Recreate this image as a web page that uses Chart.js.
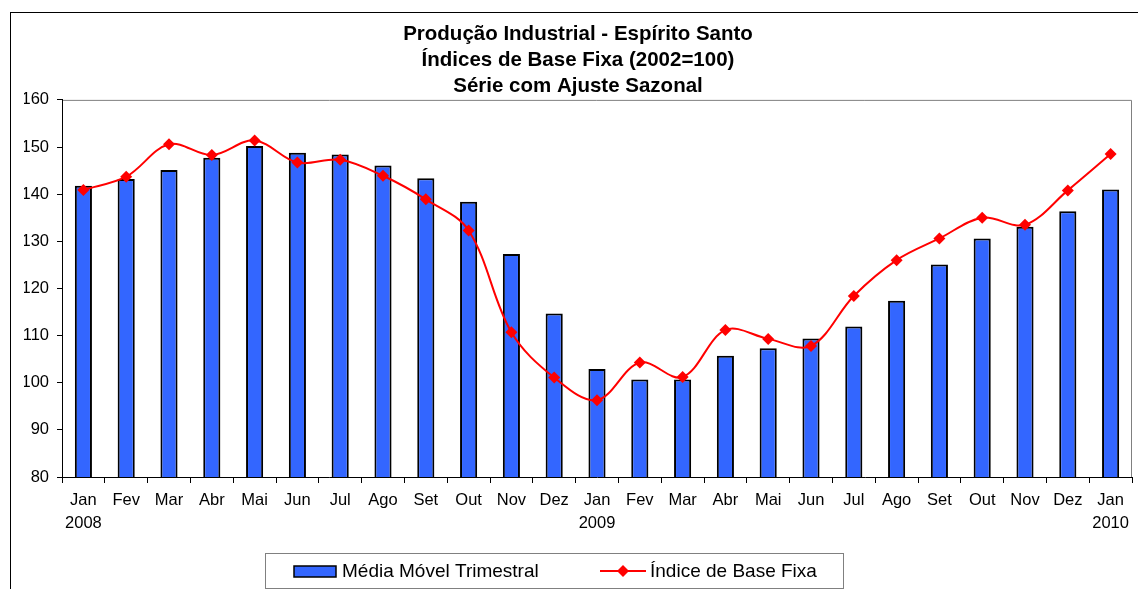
<!DOCTYPE html>
<html>
<head>
<meta charset="utf-8">
<script src="https://cdn.jsdelivr.net/npm/chart.js@4"></script>
<style>
  html, body { margin: 0; padding: 0; background: #fff; }
  #wrap { width: 1138px; height: 589px; }
</style>
</head>
<body>
<div id="wrap"><canvas id="myChart" width="1138" height="589"></canvas></div>
<script>
const months = ["Jan", "Fev", "Mar", "Abr", "Mai", "Jun", "Jul", "Ago", "Set", "Out", "Nov", "Dez",
                "Jan", "Fev", "Mar", "Abr", "Mai", "Jun", "Jul", "Ago", "Set", "Out", "Nov", "Dez", "Jan"];
const years = { 0: "2008", 12: "2009", 24: "2010" };

const mediaMovel = [141.8, 143.2, 145.1, 147.7, 150.2, 148.8, 148.4, 146.1, 143.4, 138.4, 127.3, 114.7,
                    102.9, 100.7, 100.7, 105.7, 107.3, 109.4, 111.9, 117.4, 125.1, 130.6, 133.1, 136.4, 141.0];
const indiceBase = [140.9, 143.7, 150.6, 148.3, 151.4, 146.7, 147.3, 143.9, 138.9, 132.3, 110.7, 101.1,
                    96.3, 104.3, 101.2, 111.2, 109.3, 107.8, 118.4, 126.0, 130.6, 135.0, 133.5, 140.8, 148.5];

const titleLines = ["Produção Industrial - Espírito Santo", "Índices de Base Fixa (2002=100)", "Série com Ajuste Sazonal"];

const labels = months.map((m, i) => years[i] ? [m, years[i]] : m);
const font = "Arial, 'Liberation Sans', sans-serif";

// outer frame, plot border and the boxed legend
const frame = {
    id: "frame",
    beforeDraw(chart) {
        const ctx = chart.ctx, a = chart.chartArea;
        ctx.save();
        ctx.fillStyle = "#fff";
        ctx.fillRect(0, 0, chart.width, chart.height);
        ctx.strokeStyle = "#000";
        ctx.lineWidth = 1;
        ctx.strokeRect(10.5, 12.5, chart.width + 20, chart.height + 20);
        ctx.strokeStyle = "#808080";
        ctx.beginPath();
        ctx.moveTo(a.left, a.top + 0.5);
        ctx.lineTo(a.right - 0.5, a.top + 0.5);
        ctx.lineTo(a.right - 0.5, a.bottom);
        ctx.stroke();
        ctx.restore();
    },
    afterDraw(chart) {
        const ctx = chart.ctx;
        const bar = chart.data.datasets[1], line = chart.data.datasets[0];
        const y = 571;
        ctx.save();
        ctx.strokeStyle = "#808080";
        ctx.lineWidth = 1;
        ctx.strokeRect(265.5, 553.5, 578, 35);
        // bar swatch
        ctx.fillStyle = bar.backgroundColor;
        ctx.fillRect(294, 566, 42, 11);
        ctx.strokeStyle = "#000";
        ctx.lineWidth = 1.5;
        ctx.strokeRect(294, 566, 42, 11);
        // line swatch
        ctx.strokeStyle = line.borderColor;
        ctx.lineWidth = 2;
        ctx.beginPath();
        ctx.moveTo(600, y);
        ctx.lineTo(646, y);
        ctx.stroke();
        ctx.fillStyle = line.backgroundColor;
        ctx.beginPath();
        ctx.moveTo(623, y - 6);
        ctx.lineTo(629, y);
        ctx.lineTo(623, y + 6);
        ctx.lineTo(617, y);
        ctx.closePath();
        ctx.fill();
        ctx.fillStyle = "#000";
        ctx.font = "19px " + font;
        ctx.textBaseline = "middle";
        ctx.fillText(bar.label, 342, y + 1);
        ctx.fillText(line.label, 650, y + 1);
        ctx.restore();
    }
};

const ctx = document.getElementById("myChart").getContext("2d");

const myChart = new Chart(ctx, {
    type: "bar",
    data: {
        labels: labels,
        datasets: [
            {
                type: "line",
                label: "Índice de Base Fixa",
                data: indiceBase,
                borderColor: "#FF0000",
                backgroundColor: "#FF0000",
                borderWidth: 2,
                tension: 0.35,
                pointStyle: "rectRot",
                pointRadius: 6,
                pointBorderWidth: 0,
                order: 1
            },
            {
                label: "Média Móvel Trimestral",
                data: mediaMovel,
                backgroundColor: "#3366FF",
                borderColor: "#000",
                borderWidth: 2,
                borderSkipped: false,
                barPercentage: 0.4,
                categoryPercentage: 1,
                order: 2
            }
        ]
    },
    options: {
        responsive: false,
        animation: false,
        layout: { padding: { left: 24, right: 6, top: 0, bottom: 52 } },
        plugins: {
            legend: { display: false },
            tooltip: { enabled: false },
            title: {
                display: true,
                text: titleLines,
                color: "#000",
                font: { family: font, size: 20.5, weight: "bold", lineHeight: 1.25 },
                padding: { top: 22, bottom: 1 }
            }
        },
        scales: {
            x: {
                afterFit(scale) { scale.height = 60; },
                grid: { drawOnChartArea: false, tickLength: 6, color: "#000" },
                border: { color: "#000", width: 1 },
                ticks: {
                    color: "#000",
                    maxRotation: 0,
                    autoSkip: false,
                    padding: 6,
                    font: { family: font, size: 16.5, lineHeight: 1.4 }
                }
            },
            y: {
                min: 80,
                max: 160,
                afterFit(scale) { scale.width = 38; },
                grid: { drawOnChartArea: false, tickLength: 5, color: "#000" },
                border: { color: "#000", width: 1 },
                ticks: {
                    stepSize: 10,
                    color: "#000",
                    padding: 8,
                    font: { family: font, size: 16.5 }
                }
            }
        }
    },
    plugins: [frame]
});
</script>
</body>
</html>
